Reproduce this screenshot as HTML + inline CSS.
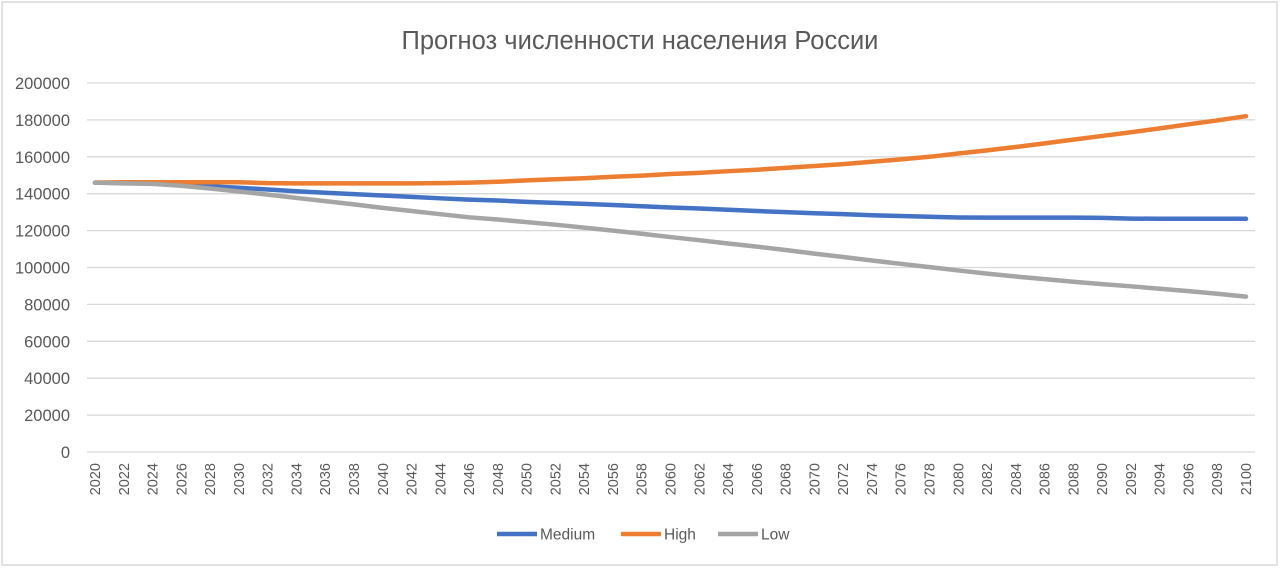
<!DOCTYPE html>
<html><head><meta charset="utf-8"><style>
body{margin:0;background:#fff;font-family:"Liberation Sans",sans-serif}
#wrap{position:relative;width:1280px;height:569px}
</style></head><body>
<div id="wrap">
<svg id="chart" width="1280" height="569">
<rect x="2" y="2" width="1275" height="563" fill="#fff" stroke="#d9d9d9" stroke-width="1.5"/>
<text x="640" y="49" text-anchor="middle" font-size="25.5" fill="#595959">Прогноз численности населения России</text>
<g id="grid"></g><g id="ylab"></g><g id="xlab"></g><g id="series"></g>
<g id="legend"></g>
</svg>
</div>
<script>
const years=[];for(let y=2020;y<=2100;y+=2)years.push(y);
const medium=[146000,145800,145500,144800,144000,143200,142300,141300,140500,139800,139000,138300,137500,136800,136300,135600,135000,134500,133900,133200,132500,132000,131300,130600,130000,129400,128900,128300,127900,127500,127100,127000,127000,127000,127000,126900,126500,126400,126400,126400,126400];
const high=[146000,146200,146200,146200,146200,146200,145700,145600,145600,145600,145600,145600,145700,146000,146500,147200,147800,148400,149200,149800,150700,151300,152200,153000,154000,155000,156000,157300,158600,160000,161800,163500,165300,167300,169300,171300,173300,175400,177600,179700,182000];
const low=[146000,145600,145300,144300,142800,141200,139500,137700,136000,134200,132300,130600,128900,127200,126000,124600,123200,121600,120000,118300,116500,114800,113000,111300,109500,107500,105700,103800,102000,100200,98400,96700,95100,93700,92300,91000,89800,88500,87200,85800,84200];
const yTicks=[0,20000,40000,60000,80000,100000,120000,140000,160000,180000,200000];
const NS='http://www.w3.org/2000/svg';
const X=y=>95+(y-2020)*(1246-95)/80;
const Y=v=>452-v*369/200000;
function mk(t,a,p){const e=document.createElementNS(NS,t);for(const k in a)e.setAttribute(k,a[k]);document.getElementById(p).appendChild(e);return e;}
yTicks.forEach(v=>{
 const l=mk('line',{x1:87,x2:1255,y1:Y(v),y2:Y(v),stroke:'#d9d9d9','stroke-width':1.3},'grid');
 
 
 const t=mk('text',{x:70,y:Y(v)+6,'text-anchor':'end','font-size':16.5,fill:'#595959'},'ylab');
 t.textContent=v;
 
 
});
years.forEach(y=>{
 const t=mk('text',{transform:`translate(${X(y)+5},463) rotate(-90)`,'text-anchor':'end','font-size':14.5,fill:'#595959'},'xlab');
 t.textContent=y;
 
 
});
const ser=[['Medium',medium,'#4472c4'],['High',high,'#ed7d31'],['Low',low,'#a5a5a5']];
ser.forEach(([n,d,c])=>{
 const p=mk('polyline',{points:d.map((v,i)=>X(years[i])+','+Y(v)).join(' '),fill:'none',stroke:c,'stroke-width':4.5,'stroke-linejoin':'round','stroke-linecap':'round'},'series');
 
 
});
const lx=[497,621,718];
ser.forEach(([n,d,c],i)=>{
 const l=mk('line',{x1:lx[i],x2:lx[i]+40,y1:534,y2:534,stroke:c,'stroke-width':4.5},'legend');
 
 
 const t=mk('text',{x:lx[i]+43,y:539.5,'font-size':15.5,fill:'#595959'},'legend');
 t.textContent=n;
 
 
});
</script>
</body></html>
